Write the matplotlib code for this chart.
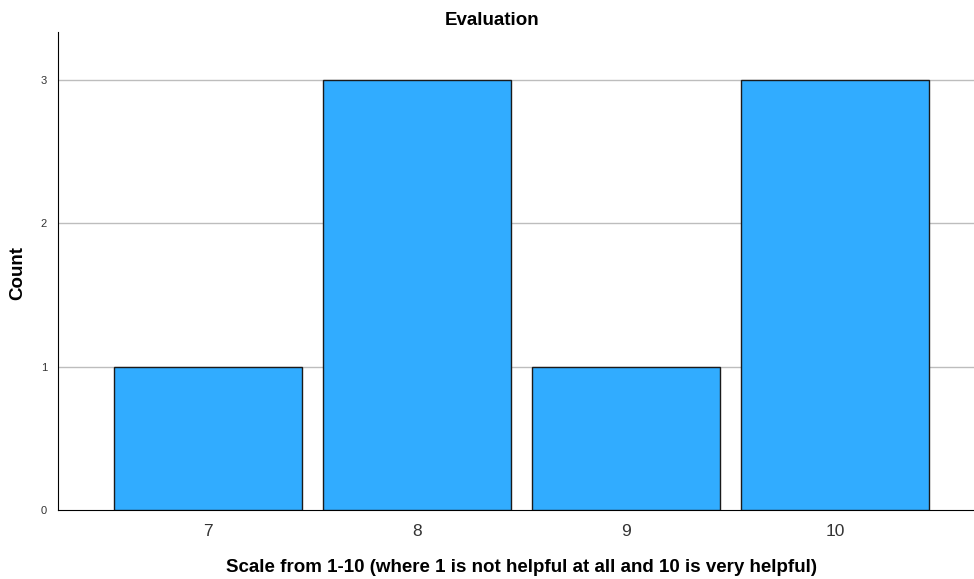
import numpy as np
import matplotlib
matplotlib.use('Agg')
import matplotlib.pyplot as plt

plt.rcParams['font.family'] = ['Liberation Sans', 'DejaVu Sans']

# data
categories = ['7', '8', '9', '10']
counts = [1, 3, 1, 3]

fig = plt.figure(figsize=(9.74, 5.79), dpi=100)
ax = fig.add_axes([58/974, 69/579, 1 - 58/974, (510-32)/579])

x = np.arange(len(categories))
ax.bar(x, counts, width=0.9, color='#31acff', edgecolor='#1a1a1a', linewidth=1.0, zorder=3)

ax.set_xlim(-0.72, 3.665)
ax.set_ylim(0, 3.335)
ax.set_xticks(x)
ax.set_xticklabels(categories, fontsize=12.5, color='#333333')
ax.set_yticks([0, 1, 2, 3])
ax.set_yticklabels(['0', '1', '2', '3'], fontsize=8, color='#333333')
ax.tick_params(length=0)
ax.tick_params(axis='x', pad=10)
ax.tick_params(axis='y', pad=8)

for y in [1, 2, 3]:
    ax.axhline(y, color='#bdbdbd', linewidth=1.0, zorder=1)

ax.spines['top'].set_visible(False)
ax.spines['right'].set_visible(False)
ax.spines['left'].set_color('black')
ax.spines['bottom'].set_color('black')

ax.set_title('Evaluation', fontsize=13.5, fontweight='bold', x=(492-58)/916, pad=5)
ax.set_ylabel('Count', fontsize=13.5, fontweight='bold', va='center', ha='center')
ax.yaxis.set_label_coords(-(58-18)/916, (510-273)/478)
ax.set_xlabel('Scale from 1-10 (where 1 is not helpful at all and 10 is very helpful)',
              fontsize=13.5, fontweight='bold', va='center', ha='center')
ax.xaxis.set_label_coords((522-58)/916, -(567-510)/478)

fig.savefig('out.png', dpi=100)
